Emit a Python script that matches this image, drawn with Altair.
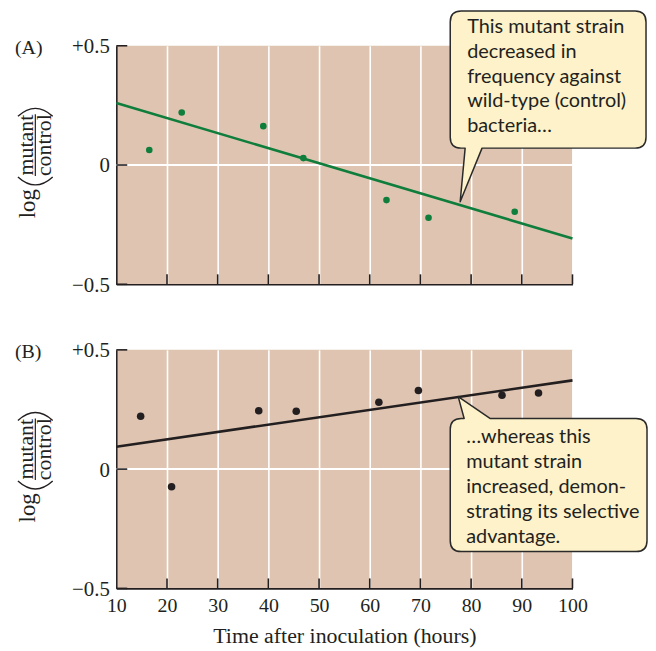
import altair as alt
import pandas as pd

# ---- data ----
time_a = [16.5, 22.9, 39.0, 46.9, 63.3, 71.6, 88.6]
log_a = [0.063, 0.22, 0.163, 0.029, -0.147, -0.221, -0.196]
time_b = [14.8, 20.9, 38.1, 45.5, 61.8, 69.6, 86.1, 93.3]
log_b = [0.222, -0.074, 0.245, 0.243, 0.28, 0.33, 0.31, 0.319]
fit_x = [10, 100]
fit_a = [0.26, -0.308]
fit_b = [0.094, 0.372]
y_ticks = [-0.5, 0, 0.5]
x_ticks = [20, 30, 40, 50, 60, 70, 80, 90, 100]
x_labels = [10, 20, 30, 40, 50, 60, 70, 80, 90, 100]

note_a = ["This mutant strain", "decreased in", "frequency against",
          "wild-type (control)", "bacteria\u2026"]
note_b = ["\u2026whereas this", "mutant strain", "increased, demon-",
          "strating its selective", "advantage."]

W, H = 459, 240
INK = "#231f20"
GREEN = "#0f7d3b"
PANEL = "#dfc5b1"
CREAM = "#fdf2c9"
SERIF = "Liberation Serif"
SANS = "Lato"

x_scale = alt.Scale(domain=[10, 100], nice=False, zero=False)
y_scale = alt.Scale(domain=[-0.5, 0.5], nice=False, zero=False)

one = pd.DataFrame({"k": [0]})


def bubble_path(x0, y0, x1, y1, r, tail_side, b1, tip, b2):
    p = [f"M{x0 + r},{y0}"]
    if tail_side == "top":
        p += [f"L{b1},{y0}", f"L{tip[0]},{tip[1]}", f"L{b2},{y0}"]
    p += [f"L{x1 - r},{y0}", f"Q{x1},{y0} {x1},{y0 + r}",
          f"L{x1},{y1 - r}", f"Q{x1},{y1} {x1 - r},{y1}"]
    if tail_side == "bottom":
        p += [f"L{b1},{y1}", f"L{tip[0]},{tip[1]}", f"L{b2},{y1}"]
    p += [f"L{x0 + r},{y1}", f"Q{x0},{y1} {x0},{y1 - r}",
          f"L{x0},{y0 + r}", f"Q{x0},{y0} {x0 + r},{y0}", "Z"]
    return " ".join(p)


# tall thin brackets of the rotated fraction (opening up at bottom, down at top)
paren_path = "M-99,132 Q-81.5,148 -64,132 M-99,71 Q-81.5,55 -64,71"


def panel(times, logs, fit, color, dot_size, letter, note, bubble, note_xy, show_x):
    pts = pd.DataFrame({"t": times, "v": logs})
    fitdf = pd.DataFrame({"t": fit_x, "v": fit})
    ytk = pd.DataFrame({"v": y_ticks})
    xtk = pd.DataFrame({"t": x_ticks})

    x_axis = alt.Axis(
        values=x_labels if show_x else x_ticks,
        grid=True, gridColor="white", gridWidth=1.6,
        ticks=False, domain=True, domainColor=INK, domainWidth=1.6,
        labels=show_x, labelFlush=False, labelFont=SERIF, labelFontSize=20,
        labelColor=INK, labelPadding=7,
        title="Time after inoculation (hours)" if show_x else None,
        titleFont=SERIF, titleFontSize=22, titleFontWeight="normal",
        titleColor=INK, titlePadding=10,
    )
    y_axis = alt.Axis(
        values=y_ticks, grid=False, ticks=False, domain=True,
        domainColor=INK, domainWidth=1.6,
        labelExpr="datum.value > 0 ? '+0.5' : (datum.value < 0 ? '\u22120.5' : '0')",
        labelFont=SERIF, labelFontSize=21, labelColor=INK, labelPadding=7,
        labelOffset=1, title=None,
    )

    zero_line = alt.Chart(ytk).transform_filter("datum.v == 0").mark_rule(
        color="white", strokeWidth=2
    ).encode(
        y=alt.Y("v:Q", scale=y_scale, axis=y_axis),
        x=alt.value(0), x2=alt.value(W),
    )
    fit_line = alt.Chart(fitdf).mark_line(color=color, strokeWidth=2.6).encode(
        x=alt.X("t:Q", scale=x_scale, axis=x_axis),
        y=alt.Y("v:Q", scale=y_scale, axis=y_axis),
    )
    y_tick_marks = alt.Chart(ytk).mark_rule(color=INK, strokeWidth=1.6).encode(
        y=alt.Y("v:Q", scale=y_scale, axis=y_axis),
        x=alt.value(0), x2=alt.value(11),
    )
    x_tick_marks = alt.Chart(xtk).mark_rule(color=INK, strokeWidth=1.6).encode(
        x=alt.X("t:Q", scale=x_scale, axis=x_axis),
        y=alt.value(H), y2=alt.value(H - 10),
    )
    dots = alt.Chart(pts).mark_circle(color=color, size=dot_size, opacity=1).encode(
        x=alt.X("t:Q", scale=x_scale, axis=x_axis),
        y=alt.Y("v:Q", scale=y_scale, axis=y_axis),
    )
    bub = alt.Chart(one).mark_point(
        shape=bubble, size=4, filled=True, fill=CREAM, stroke="#2a2a2a",
        strokeWidth=1.5, opacity=1, strokeJoin="round",
    ).encode(x=alt.value(0), y=alt.value(0))
    note_txt = alt.Chart(one).mark_text(
        text=note, align="left", baseline="alphabetic", font=SANS,
        fontSize=20, lineHeight=25, color=INK,
    ).encode(x=alt.value(note_xy[0]), y=alt.value(note_xy[1]))

    lab = alt.Chart(one).mark_text(
        text=f"({letter})", align="left", baseline="alphabetic", font=SERIF,
        fontSize=20, color=INK,
    ).encode(x=alt.value(-102), y=alt.value(8))

    def rot(txt, x, y, size):
        return alt.Chart(one).mark_text(
            text=txt, angle=270, align="center", baseline="alphabetic",
            font=SERIF, fontSize=size, color=INK,
        ).encode(x=alt.value(x), y=alt.value(y))

    t_log = rot("log", -82, 159, 23)
    t_mut = rot("mutant", -84, 100, 22)
    t_con = rot("control", -66, 100, 22)
    parens = alt.Chart(one).mark_point(
        shape=paren_path, size=4, filled=False, stroke=INK, strokeWidth=1.4,
        opacity=1,
    ).encode(x=alt.value(0), y=alt.value(0))
    bar = alt.Chart(one).mark_rule(color=INK, strokeWidth=1.2).encode(
        x=alt.value(-81.5), y=alt.value(69), y2=alt.value(131)
    )

    return alt.layer(
        zero_line, fit_line, y_tick_marks, x_tick_marks, dots, bub, note_txt,
        lab, t_log, t_mut, t_con, parens, bar,
    ).properties(width=W, height=H)


bub_a = bubble_path(336, -35, 533, 103, 11, "bottom", 368, (346, 157), 351)
bub_b = bubble_path(336, 69, 534, 203, 11, "top", 350, (344, 47), 376)

chart_a = panel(time_a, log_a, fit_a, GREEN, 44, "A", note_a, bub_a, (353, -13), False)
chart_b = panel(time_b, log_b, fit_b, INK, 58, "B", note_b, bub_b, (352, 94), True)

chart = alt.vconcat(chart_a, chart_b, spacing=66, bounds="flush").properties(
    padding={"left": 7, "top": 0, "right": 0, "bottom": 0}
).configure(background="white").configure_view(fill=PANEL, strokeWidth=0)

chart.save("out.html", embed_options={"renderer": "svg", "actions": False})
